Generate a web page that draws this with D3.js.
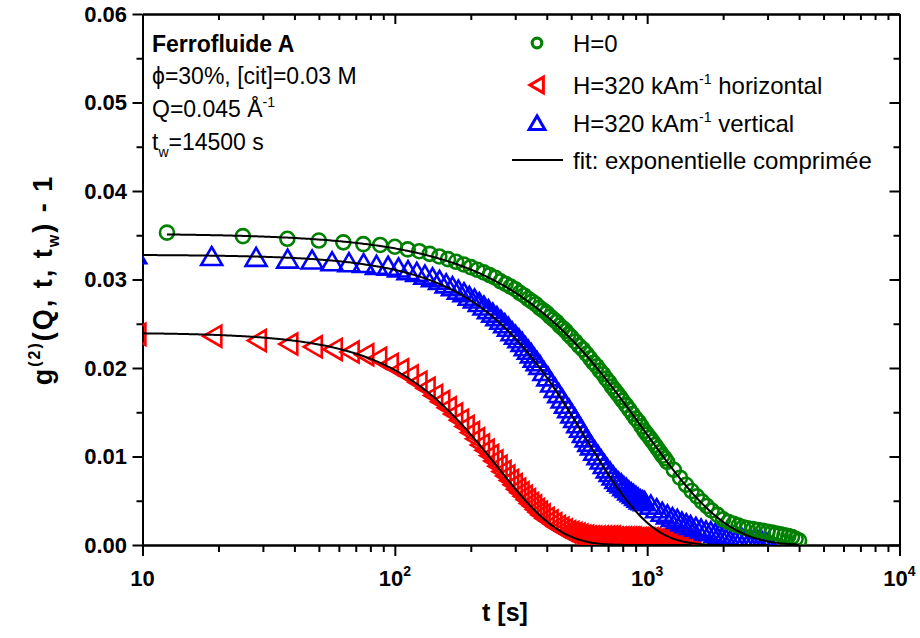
<!DOCTYPE html>
<html><head><meta charset="utf-8">
<script src="https://cdn.jsdelivr.net/npm/d3@7/dist/d3.min.js"></script>
<style>
html,body{margin:0;padding:0;background:#fff;}
svg{display:block;font-family:"Liberation Sans",Arial,sans-serif;}
</style></head>
<body><svg id="c" width="920" height="638"></svg>
<script>
// ---------------- data ----------------
const xTickValues = [10, 100, 1000, 10000];
const xTickBase = ["10", "10", "10", "10"];
const xTickExp = ["", "2", "3", "4"];
const yTickValues = [0, 0.01, 0.02, 0.03, 0.04, 0.05, 0.06];
const yTickLabels = ["0.00", "0.01", "0.02", "0.03", "0.04", "0.05", "0.06"];

// H=0 (green circles)
const greenT = [12.5,25,37.5,50,62.5,75,87.5,100,112.5,125,137.5,150,162.5,175,187.5,200,
  212.5,225,237.5,250,262.5,275,287.5,300,312.5,325,337.5,350,362.5,375,387.5,400,412.5,425,437.5,450,462.5,475,487.5,500,
  518.75,537.5,556.25,575,593.75,612.5,631.25,650,668.75,687.5,706.25,725,743.75,762.5,781.25,800,
  825,850,875,900,925,950,975,1000,1025,1050,1075,1100,1125,1150,1175,1200,
  1275,1350,1425,1500,1575,1650,1725,1800,
  1900,2000,2100,2200,2300,2400,2500,
  2625,2750,2875,3000,3125,3250,3375,3500,3625,3750,3875,4000];
const greenV = [0.0353,0.0349,0.0346,0.0344,0.0342,0.0340,0.0339,0.0337,0.0334,0.0332,0.0329,0.0326,0.0323,0.0320,0.0317,0.0314,
  0.0311,0.0308,0.0305,0.0302,0.0298,0.0295,0.0292,0.0289,0.0285,0.0282,0.0278,0.0275,0.0272,0.0268,0.0265,0.0262,0.0258,0.0255,0.0252,0.0248,0.0245,0.0242,0.0238,0.0235,
  0.0230,0.0225,0.0221,0.0216,0.0211,0.0206,0.0202,0.0197,0.0193,0.0188,0.0184,0.0179,0.0175,0.0171,0.0167,0.0163,
  0.0158,0.0153,0.0148,0.0143,0.0139,0.0134,0.0129,0.0125,0.0121,0.0117,0.0113,0.0109,0.0105,0.0101,0.0098,0.0094,
  0.0085,0.0076,0.0068,0.0061,0.0055,0.0049,0.0044,0.0039,
  0.0034,0.0029,0.0026,0.0024,0.0022,0.0020,0.0019,
  0.0018,0.0017,0.0016,0.0015,0.0014,0.0013,0.0012,0.0011,0.0010,0.0009,0.0007,0.0005];

// H=320 kA/m horizontal (red left triangles)
const redT = [9.5,19,28.5,38,47.5,57,66.5,76,85.5,95,104.5,114,123.5,133,142.5,152,
  161.5,171,180.5,190,199.5,209,218.5,228,237.5,247,256.5,266,275.5,285,294.5,304,313.5,323,332.5,342,351.5,361,370.5,380,
  394.25,408.5,422.75,437,451.25,465.5,479.75,494,508.25,522.5,536.75,551,565.25,579.5,593.75,608,
  627,646,665,684,703,722,741,760,779,798,817,836,855,874,893,912,931,950,969,988,
  1016.5,1045,1073.5,1102,1130.5,1159,1187.5,1216,1244.5,1273,1301.5,1330,1358.5,1387,1415.5,1444,1472.5,1501];
const redV = [0.0238,0.0236,0.0231,0.0227,0.0224,0.0221,0.0218,0.0215,0.0211,0.0204,0.0198,0.0191,0.0184,0.0177,0.0169,0.0162,
  0.0155,0.0148,0.0141,0.0134,0.0127,0.0120,0.0113,0.0107,0.0101,0.0095,0.0089,0.0083,0.0078,0.0073,0.0068,0.0063,0.0059,0.0055,0.0051,0.0047,0.0044,0.0040,0.0037,0.0034,
  0.0030,0.0027,0.0024,0.0021,0.0019,0.0017,0.0015,0.0014,0.0013,0.0012,0.0011,0.0010,0.0010,0.0009,0.0009,0.0009,
  0.0009,0.0009,0.0009,0.0009,0.0009,0.0009,0.0008,0.0008,0.0008,0.0008,0.0008,0.0008,0.0008,0.0008,0.0007,0.0007,0.0007,0.0007,0.0007,0.0007,
  0.0007,0.0007,0.0006,0.0006,0.0006,0.0006,0.0006,0.0006,0.0005,0.0005,0.0005,0.0005,0.0005,0.0005,0.0004,0.0004,0.0004,0.0004];

// H=320 kA/m vertical (blue up triangles)
const blueT = [9.4,18.8,28.2,37.6,47,56.4,65.8,75.2,84.6,94,103.4,112.8,122.2,131.6,141,150.4,
  159.8,169.2,178.6,188,197.4,206.8,216.2,225.6,235,244.4,253.8,263.2,272.6,282,291.4,300.8,310.2,319.6,329,338.4,347.8,357.2,366.6,376,
  390.1,404.2,418.3,432.4,446.5,460.6,474.7,488.8,502.9,517,531.1,545.2,559.3,573.4,587.5,601.6,
  620.4,639.2,658,676.8,695.6,714.4,733.2,752,770.8,789.6,808.4,827.2,846,864.8,883.6,902.4,921.2,940,958.8,977.6,
  1034,1090.4,1146.8,1203.2,1259.6,1316,1372.4,1428.8,1485.2,
  1560.4,1635.6,1710.8,1786,1861.2,1936.4,2011.6,2086.8,
  2180.8,2274.8,2368.8,2462.8,2556.8,2650.8,2744.8,2838.8,2932.8,3026.8];
const blueV = [0.0328,0.0326,0.0325,0.0323,0.0322,0.0320,0.0319,0.0318,0.0316,0.0315,0.0313,0.0310,0.0308,0.0305,0.0302,0.0299,
  0.0295,0.0292,0.0288,0.0285,0.0281,0.0278,0.0274,0.0270,0.0266,0.0262,0.0258,0.0254,0.0250,0.0246,0.0241,0.0237,0.0233,0.0229,0.0224,0.0220,0.0216,0.0211,0.0207,0.0203,
  0.0196,0.0190,0.0183,0.0177,0.0171,0.0165,0.0159,0.0154,0.0148,0.0143,0.0137,0.0132,0.0126,0.0121,0.0116,0.0112,
  0.0106,0.0101,0.0096,0.0091,0.0086,0.0082,0.0078,0.0074,0.0071,0.0069,0.0066,0.0064,0.0061,0.0059,0.0057,0.0055,0.0053,0.0051,0.0050,0.0049,
  0.0045,0.0041,0.0037,0.0034,0.0031,0.0029,0.0026,0.0024,0.0022,
  0.0020,0.0018,0.0016,0.0015,0.0013,0.0012,0.0011,0.0010,
  0.0009,0.0008,0.0008,0.0007,0.0006,0.0006,0.0005,0.0005,0.0004,0.0003];

// compressed exponential fit parameters: A*exp(-(t/tau)^beta), over [tStart, tEnd]
const fitNames = ["green", "red", "blue"];
const fitA = [0.0352, 0.0240, 0.0328];
const fitTau = [972, 255, 571];
const fitBeta = [1.325, 1.75, 1.68];
const fitStart = [12.5, 9.5, 9.4];
const fitEnd = [4000, 1501, 3027];

const legendLabels = ["H=0", "H=320 kAm", "H=320 kAm", "fit: exponentielle comprimée"];
const legendSup = ["", "-1", "-1", ""];
const legendTail = ["", " horizontal", " vertical", ""];

// ---------------- drawing ----------------
const svg = d3.select("#c");
const L = 142.5, R = 899.5, T = 14, B = 545;
const x = d3.scaleLog().domain([10, 10000]).range([L, R]);
const y = d3.scaleLinear().domain([0, 0.06]).range([B, T]);

const colors = {green: "#008000", red: "#ff0000", blue: "#0000ff"};

svg.append("defs").append("clipPath").attr("id", "clip")
  .append("rect").attr("x", L).attr("y", T).attr("width", R - L).attr("height", B - T);

const xMinor = [];
[10, 100, 1000].forEach(d => { for (let k = 2; k <= 9; k++) xMinor.push(d * k); });
const yMinor = [0.005, 0.015, 0.025, 0.035, 0.045, 0.055];

function styleAxis(g) {
  g.selectAll("path.domain").attr("stroke", "#000").attr("stroke-width", 2);
  g.selectAll(".tick line").attr("stroke", "#000").attr("stroke-width", 2);
  g.selectAll(".tick text").remove();
}
svg.append("g").attr("transform", `translate(0,${B})`)
  .call(d3.axisBottom(x).tickValues(xTickValues).tickSize(11).tickSizeOuter(0).tickFormat("")).call(styleAxis);
svg.append("g").attr("transform", `translate(0,${B})`)
  .call(d3.axisBottom(x).tickValues(xMinor).tickSize(7).tickSizeOuter(0).tickFormat("")).call(styleAxis);
svg.append("g").attr("transform", `translate(0,${T})`)
  .call(d3.axisTop(x).tickValues(xTickValues).tickSize(-10).tickSizeOuter(0).tickFormat("")).call(styleAxis);
svg.append("g").attr("transform", `translate(0,${T})`)
  .call(d3.axisTop(x).tickValues(xMinor).tickSize(-6).tickSizeOuter(0).tickFormat("")).call(styleAxis);
svg.append("g").attr("transform", `translate(${L},0)`)
  .call(d3.axisLeft(y).tickValues(yTickValues).tickSize(10).tickSizeOuter(0).tickFormat("")).call(styleAxis);
svg.append("g").attr("transform", `translate(${L},0)`)
  .call(d3.axisLeft(y).tickValues(yMinor).tickSize(6).tickSizeOuter(0).tickFormat("")).call(styleAxis);
svg.append("g").attr("transform", `translate(${R},0)`)
  .call(d3.axisRight(y).tickValues(yTickValues).tickSize(-10).tickSizeOuter(0).tickFormat("")).call(styleAxis);
svg.append("g").attr("transform", `translate(${R},0)`)
  .call(d3.axisRight(y).tickValues(yMinor).tickSize(-6).tickSizeOuter(0).tickFormat("")).call(styleAxis);

// tick labels
svg.append("g").selectAll("text").data(yTickValues).join("text")
  .attr("x", 127).attr("y", d => y(d)).attr("dy", "0.36em")
  .attr("text-anchor", "end").attr("font-size", 22).attr("font-weight", "bold")
  .text((d, i) => yTickLabels[i]);
const xl = svg.append("g").selectAll("text").data(xTickValues).join("text")
  .attr("x", d => x(d)).attr("y", 586)
  .attr("text-anchor", "middle").attr("font-size", 22).attr("font-weight", "bold");
xl.append("tspan").text((d, i) => xTickBase[i]);
xl.append("tspan").attr("font-size", 14).attr("dy", -10).text((d, i) => xTickExp[i]);

// axis titles
svg.append("text").attr("x", 505).attr("y", 621).attr("text-anchor", "middle")
  .attr("font-size", 25).attr("font-weight", "bold").text("t [s]");
const yt = svg.append("text").attr("transform", "translate(52,280) rotate(-90)")
  .attr("text-anchor", "middle").attr("font-size", 27).attr("font-weight", "bold")
  .attr("letter-spacing", 2);
yt.append("tspan").text("g");
yt.append("tspan").attr("font-size", 16).attr("dy", -12).text("(2)");
yt.append("tspan").attr("dy", 12).text("(Q, t, t");
yt.append("tspan").attr("font-size", 16).attr("dy", 7).text("w");
yt.append("tspan").attr("dy", -7).text(") - 1");

// markers
const plot = svg.append("g").attr("clip-path", "url(#clip)");
const triUp = "M0,-9.5L10.5,8.5L-10.5,8.5Z";
const triLeft = "M-9.5,0L8.5,-10.5L8.5,10.5Z";

const redData = redT.map((t, i) => ({t, v: redV[i]}));
const blueData = blueT.map((t, i) => ({t, v: blueV[i]}));
const greenData = greenT.map((t, i) => ({t, v: greenV[i]}));

plot.append("g").selectAll("path").data(redData).join("path")
  .attr("d", triLeft).attr("transform", d => `translate(${x(d.t)},${y(d.v)})`)
  .attr("fill", "none").attr("stroke", colors.red).attr("stroke-width", 2.6);
plot.append("g").selectAll("path").data(blueData).join("path")
  .attr("d", triUp).attr("transform", d => `translate(${x(d.t)},${y(d.v)})`)
  .attr("fill", "none").attr("stroke", colors.blue).attr("stroke-width", 2.6);
plot.append("g").selectAll("circle").data(greenData).join("circle")
  .attr("cx", d => x(d.t)).attr("cy", d => y(d.v)).attr("r", 7)
  .attr("fill", "none").attr("stroke", colors.green).attr("stroke-width", 2.6);

// fit curves
const line = d3.line().x(d => x(d[0])).y(d => y(d[1]));
fitNames.forEach((n, i) => {
  const pts = [];
  const l0 = Math.log10(fitStart[i]), l1 = Math.log10(fitEnd[i]);
  for (let k = 0; k <= 400; k++) {
    const t = Math.pow(10, l0 + (l1 - l0) * k / 400);
    pts.push([t, fitA[i] * Math.exp(-Math.pow(t / fitTau[i], fitBeta[i]))]);
  }
  plot.append("path").attr("d", line(pts)).attr("fill", "none")
    .attr("stroke", "#000").attr("stroke-width", 2);
});

// annotation
const ann = svg.append("g");
ann.append("text").attr("x", 152).attr("y", 52).attr("font-size", 23).attr("font-weight", "bold").text("Ferrofluide A");
ann.append("text").attr("x", 152).attr("y", 84).attr("font-size", 23).text("ϕ=30%, [cit]=0.03 M");
const q = ann.append("text").attr("x", 152).attr("y", 117).attr("font-size", 23);
q.append("tspan").text("Q=0.045 Å");
q.append("tspan").attr("font-size", 14).attr("dy", -10).text("-1");
const tw = ann.append("text").attr("x", 152).attr("y", 150).attr("font-size", 23);
tw.append("tspan").text("t");
tw.append("tspan").attr("font-size", 14).attr("dy", 7).text("w");
tw.append("tspan").attr("dy", -7).text("=14500 s");

// legend
const legY = [43, 85, 123, 160];
const lg = svg.append("g");
lg.append("circle").attr("cx", 537).attr("cy", legY[0]).attr("r", 4.8)
  .attr("fill", "none").attr("stroke", colors.green).attr("stroke-width", 3.2);
lg.append("path").attr("d", triLeft).attr("transform", `translate(537,${legY[1]}) scale(0.75)`)
  .attr("fill", "none").attr("stroke", colors.red).attr("stroke-width", 4);
lg.append("path").attr("d", triUp).attr("transform", `translate(537,${legY[2]}) scale(0.75)`)
  .attr("fill", "none").attr("stroke", colors.blue).attr("stroke-width", 4);
lg.append("line").attr("x1", 512).attr("x2", 563).attr("y1", legY[3]).attr("y2", legY[3])
  .attr("stroke", "#000").attr("stroke-width", 2);
legendLabels.forEach((s, i) => {
  const t = lg.append("text").attr("x", 573).attr("y", legY[i] + 9).attr("font-size", 24);
  t.append("tspan").text(s);
  if (legendSup[i]) {
    t.append("tspan").attr("font-size", 14).attr("dy", -10).text(legendSup[i]);
    t.append("tspan").attr("dy", 10).text(legendTail[i]);
  }
});
</script></body></html>
